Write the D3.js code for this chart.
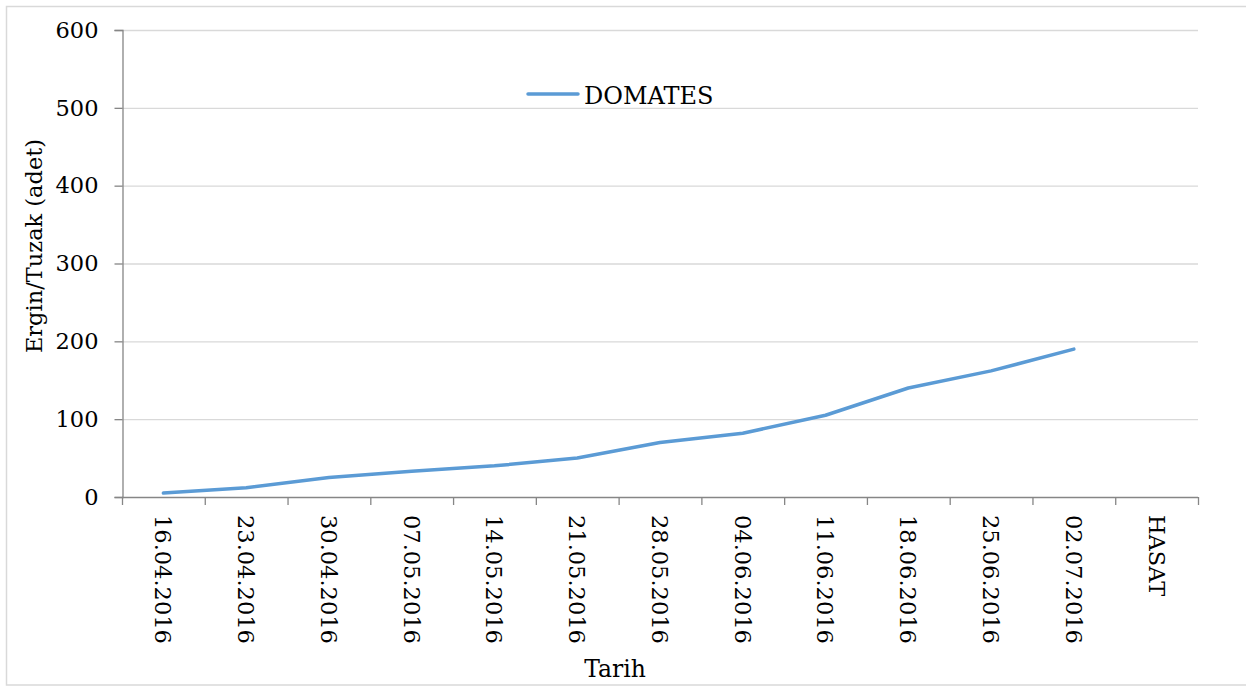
<!DOCTYPE html>
<html>
<head>
<meta charset="utf-8">
<script src="https://cdn.jsdelivr.net/npm/d3@7/dist/d3.min.js"></script>
<style>
  html, body { margin: 0; padding: 0; background: #ffffff; }
  svg { display: block; }
  text { font-family: "DejaVu Serif", "Liberation Serif", serif; fill: #000; }
</style>
</head>
<body>
<svg id="chart" width="1246" height="686"></svg>
<script>
// Weekly trap counts for tomato (adults per trap)
const categories = ["16.04.2016", "23.04.2016", "30.04.2016", "07.05.2016", "14.05.2016",
  "21.05.2016", "28.05.2016", "04.06.2016", "11.06.2016", "18.06.2016",
  "25.06.2016", "02.07.2016", "HASAT"];
const domatesValues = [5, 12, 25, 33, 40, 50, 70, 82, 105, 140, 162, 190, null];
const yTicks = [0, 100, 200, 300, 400, 500, 600];
const seriesName = "DOMATES";
const yTitle = "Ergin/Tuzak (adet)";
const xTitle = "Tarih";

const svg = d3.select("#chart");
const W = 1246, H = 686;
const m = { left: 122, right: 1198, top: 30, bottom: 497 };

// outer frame
svg.append("rect")
  .attr("x", 6.5).attr("y", 6.5)
  .attr("width", W).attr("height", H - 7.5)
  .attr("fill", "none").attr("stroke", "#d9d9d9").attr("stroke-width", 1.5);

const x = d3.scaleBand().domain(categories).range([m.left, m.right]).padding(0);
const y = d3.scaleLinear().domain([0, 600]).range([m.bottom, m.top]);

// horizontal gridlines
svg.append("g").selectAll("line")
  .data(yTicks.filter(t => t > 0))
  .join("line")
  .attr("x1", m.left).attr("x2", m.right)
  .attr("y1", d => y(d) + 0.5).attr("y2", d => y(d) + 0.5)
  .attr("stroke", "#d9d9d9").attr("stroke-width", 1.3);

// y axis
const yAxis = svg.append("g")
  .attr("transform", `translate(${m.left + 0.5},0)`)
  .call(d3.axisLeft(y).tickValues(yTicks).tickSize(8).tickPadding(16));
yAxis.select(".domain").attr("stroke", "#868686").attr("stroke-width", 1.3);
yAxis.selectAll(".tick line").attr("stroke", "#868686").attr("stroke-width", 1.3);
yAxis.selectAll(".tick text")
  .attr("font-size", 22.5)
  .attr("font-family", "DejaVu Serif, serif")
  .attr("fill", "#000");

// x axis: ticks sit on band boundaries
const boundaries = categories.map(c => x(c)).concat([m.right]);
const xAxisG = svg.append("g");
xAxisG.append("line")
  .attr("x1", m.left).attr("x2", m.right)
  .attr("y1", m.bottom + 0.5).attr("y2", m.bottom + 0.5)
  .attr("stroke", "#868686").attr("stroke-width", 1.3);
xAxisG.selectAll("line.tick")
  .data(boundaries)
  .join("line")
  .attr("class", "tick")
  .attr("x1", d => d + 0.5).attr("x2", d => d + 0.5)
  .attr("y1", m.bottom).attr("y2", m.bottom + 8)
  .attr("stroke", "#868686").attr("stroke-width", 1.3);

// rotated category labels
xAxisG.selectAll("text")
  .data(categories)
  .join("text")
  .attr("transform", d => `translate(${x(d) + x.bandwidth() / 2},${m.bottom + 18}) rotate(90)`)
  .attr("text-anchor", "start")
  .attr("dy", "0.36em")
  .attr("font-size", 22.5)
  .text(d => d);

// data line
const line = d3.line()
  .defined(d => d.v != null)
  .x(d => x(d.c) + x.bandwidth() / 2)
  .y(d => y(d.v));
svg.append("path")
  .datum(categories.map((c, i) => ({ c, v: domatesValues[i] })))
  .attr("d", line)
  .attr("fill", "none")
  .attr("stroke", "#5b9bd5")
  .attr("stroke-width", 3.5)
  .attr("stroke-linejoin", "round")
  .attr("stroke-linecap", "round");

// legend
const lg = svg.append("g");
lg.append("line")
  .attr("x1", 528).attr("x2", 578)
  .attr("y1", 94).attr("y2", 94)
  .attr("stroke", "#5b9bd5").attr("stroke-width", 3.5)
  .attr("stroke-linecap", "round");
lg.append("text")
  .attr("x", 584).attr("y", 104)
  .attr("font-size", 24)
  .text(seriesName);

// axis titles
svg.append("text")
  .attr("transform", `translate(42,246) rotate(-90)`)
  .attr("text-anchor", "middle")
  .attr("font-size", 22.5)
  .text(yTitle);

svg.append("text")
  .attr("x", 615).attr("y", 677)
  .attr("text-anchor", "middle")
  .attr("font-size", 23.5)
  .text(xTitle);
</script>
</body>
</html>
